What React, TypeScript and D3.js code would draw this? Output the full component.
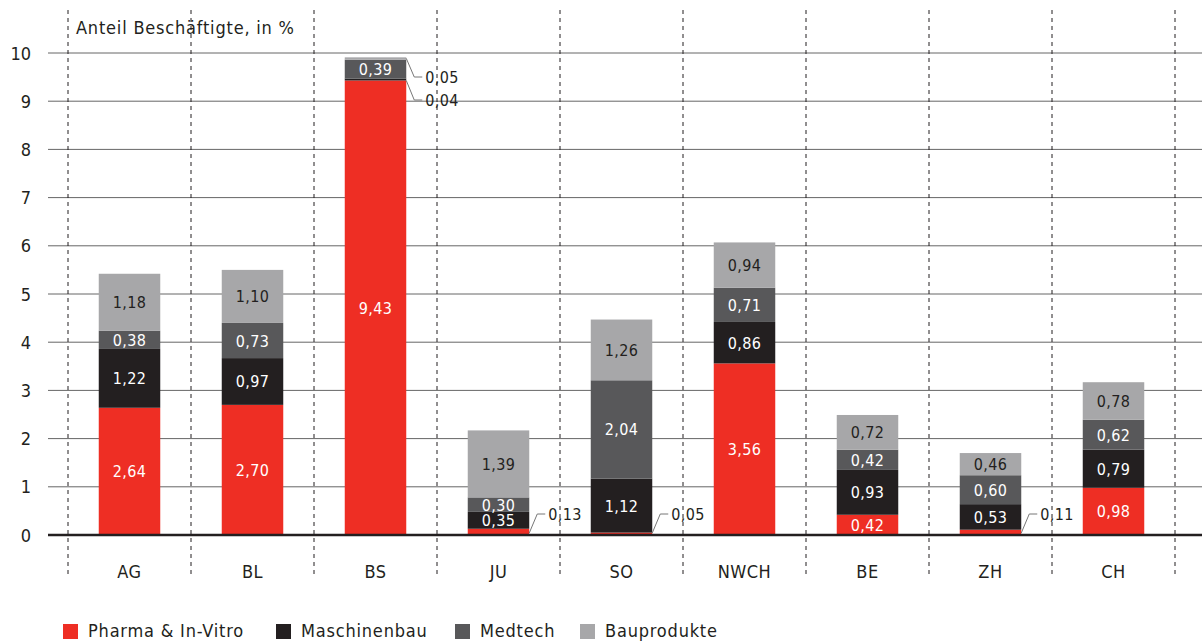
import React from "react";
import * as d3 from "d3";

const categories = ["AG", "BL", "BS", "JU", "SO", "NWCH", "BE", "ZH", "CH"];
const seriesNames = ["Pharma & In-Vitro", "Maschinenbau", "Medtech", "Bauprodukte"];
const pharma = [2.64, 2.7, 9.43, 0.13, 0.05, 3.56, 0.42, 0.11, 0.98];
const maschinenbau = [1.22, 0.97, 0.04, 0.35, 1.12, 0.86, 0.93, 0.53, 0.79];
const medtech = [0.38, 0.73, 0.39, 0.3, 2.04, 0.71, 0.42, 0.6, 0.62];
const bauprodukte = [1.18, 1.1, 0.05, 1.39, 1.26, 0.94, 0.72, 0.46, 0.78];
const yTicks = [0, 1, 2, 3, 4, 5, 6, 7, 8, 9, 10];
const colors = ["#EE2E24", "#231F20", "#58585A", "#A7A7A9"];
const textColors = ["#fff", "#fff", "#fff", "#231F20"];

const FONT = "'DejaVu Sans Condensed', 'Liberation Sans Narrow', 'Noto Sans', sans-serif";

const fmt = (v: number) => v.toFixed(2).replace(".", ",");

export default function App() {
  const W = 1202, H = 642;
  const x = d3.scaleBand<string>().domain(categories).range([68, 1175]).paddingInner(0).paddingOuter(0);
  const y = d3.scaleLinear().domain([0, 10]).range([535, 53]);
  const barW = x.bandwidth() * 0.5;
  const series = [pharma, maschinenbau, medtech, bauprodukte];
  const data = categories.map((c, i) => {
    const o: any = { cat: c };
    seriesNames.forEach((s, k) => (o[s] = series[k][i]));
    return o;
  });
  const stacked = d3.stack<any>().keys(seriesNames)(data);

  const marks: React.ReactNode[] = [];
  const labels: React.ReactNode[] = [];
  stacked.forEach((layer, k) => {
    layer.forEach((d, i) => {
      const cat = categories[i];
      const cx = (x(cat) as number) + x.bandwidth() / 2;
      const x0 = cx - barW / 2;
      const y0 = y(d[1]);
      const y1 = y(d[0]);
      const v = series[k][i];
      marks.push(
        <rect key={`r${k}-${i}`} x={x0} y={y0} width={barW} height={Math.max(0, y1 - y0)} fill={colors[k]} />
      );
      if (v >= 0.2) {
        labels.push(
          <text key={`t${k}-${i}`} x={cx} y={(y0 + y1) / 2 + 6} textAnchor="middle" fill={textColors[k]} fontSize={16} letterSpacing={0.4} fontFamily={FONT}>
            {fmt(v)}
          </text>
        );
      } else {
        const xr = x0 + barW;
        let sy: number, ly: number;
        if (cat === "BS") {
          if (k === 3) { sy = y0 + 1; ly = 77; } else { sy = y1; ly = 100; }
        } else {
          sy = y1 - 2; ly = 514;
        }
        labels.push(
          <g key={`c${k}-${i}`}>
            <polyline points={`${xr},${sy} ${xr + 8},${ly} ${xr + 16},${ly}`} fill="none" stroke="#777" strokeWidth={1} />
            <text x={xr + 19} y={ly + 6} fill="#231F20" fontSize={16} letterSpacing={0.4} fontFamily={FONT}>{fmt(v)}</text>
          </g>
        );
      }
    });
  });

  const vlines = [...categories.map((c) => x(c) as number), 1175];

  return (
    <svg width={W} height={H} style={{ position: "absolute", left: 0, top: 0, background: "#fff" }}>
      {yTicks.map((t) => (
        <g key={`g${t}`}>
          {t !== 0 && <line x1={48} x2={W} y1={y(t)} y2={y(t)} stroke="#666" strokeWidth={1} />}
          <text x={31} y={y(t) + 6.5} textAnchor="end" fontSize={18} fill="#231F20" fontFamily={FONT}>{t}</text>
        </g>
      ))}
      {vlines.map((vx, i) => (
        <line key={`v${i}`} x1={vx} x2={vx} y1={10} y2={578} stroke="#231F20" strokeWidth={1} strokeDasharray="4,4" />
      ))}
      {marks}
      <line x1={48} x2={W} y1={y(0)} y2={y(0)} stroke="#231F20" strokeWidth={2.5} />
      {labels}
      <text x={76} y={34} fontSize={18} letterSpacing={0.8} fill="#231F20" fontFamily={FONT}>Anteil Beschäftigte, in %</text>
      {categories.map((c) => (
        <text key={`x${c}`} x={(x(c) as number) + x.bandwidth() / 2} y={578} textAnchor="middle" fontSize={18} letterSpacing={0.5} fill="#231F20" fontFamily={FONT}>{c}</text>
      ))}
      {(() => {
        const items: React.ReactNode[] = [];
        const xs = [63, 276, 455, 580];
        seriesNames.forEach((s, k) => {
          items.push(
            <g key={`l${k}`}>
              <rect x={xs[k]} y={624} width={15} height={15} fill={colors[k]} />
              <text x={xs[k] + 25} y={637} fontSize={18} letterSpacing={0.8} fill="#231F20" fontFamily={FONT}>{s}</text>
            </g>
          );
        });
        return items;
      })()}
    </svg>
  );
}
